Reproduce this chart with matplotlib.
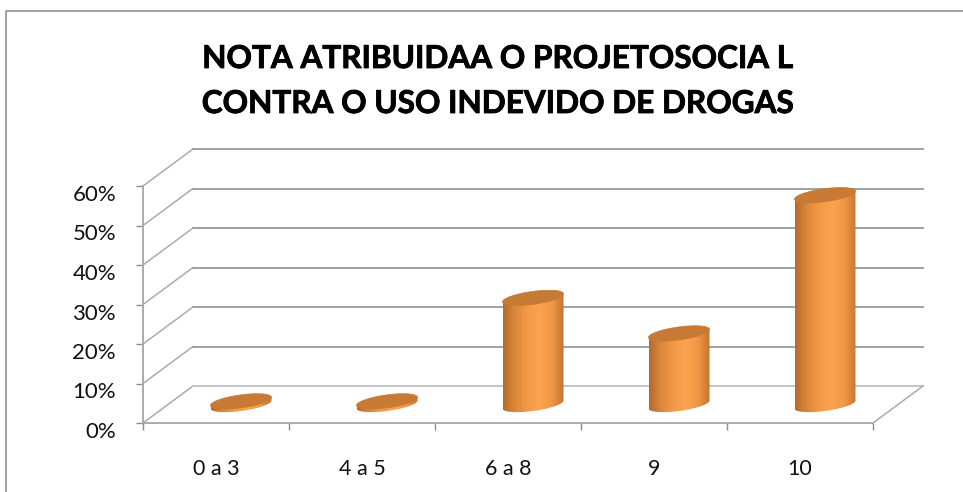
import numpy as np
import matplotlib
matplotlib.use("Agg")
import matplotlib.pyplot as plt
import matplotlib.patheffects as pe
from matplotlib.patches import Polygon
from matplotlib.lines import Line2D
from matplotlib.transforms import ScaledTranslation
from matplotlib.colors import LinearSegmentedColormap
from matplotlib.ticker import FuncFormatter

categories = ["0 a 3", "4 a 5", "6 a 8", "9", "10"]
values = [0.8, 0.8, 27, 18, 53]
y_ticks = [0, 10, 20, 30, 40, 50, 60]
title_lines = ["NOTA ATRIBUIDAA O PROJETOSOCIA L", "CONTRA O USO INDEVIDO DE DROGAS"]

W, H = 963, 492
plt.rcParams["font.family"] = ["Lato", "DejaVu Sans"]
fig = plt.figure(figsize=(W / 100, H / 100), dpi=100, facecolor="white")

L, R, B, T = 143, 873, 423, 186
ax = fig.add_axes([L / W, 1 - B / H, (R - L) / W, (B - T) / H])
ax.set_facecolor("none")

px_x = (R - L) / len(categories)
px_y = (B - T) / y_ticks[-1]
depth_x = 50 / px_x
depth_y = 37 / px_y
GRID = "#a0a0a0"

for v in y_ticks:
    ax.plot([0, depth_x], [v, v + depth_y], color="#ababab", lw=1.1, clip_on=False, zorder=1)
    ax.plot([depth_x, len(categories) + depth_x], [v + depth_y] * 2,
            color="#c4c4c4" if v == 0 else GRID, lw=1.4, clip_on=False, zorder=1)
ax.plot([len(categories), len(categories) + depth_x], [0, depth_y], color="#ababab", lw=1.1,
        clip_on=False, zorder=1)

cmap = LinearSegmentedColormap.from_list(
    "cyl", ["#b56b2c", "#dc8838", "#f39a48", "#fba34f", "#f09846", "#c27530"])
grad = np.linspace(0, 1, 200).reshape(1, -1)
half_w = 30.5 / px_x
semi_b = 6.5 / px_y
shear = 4.0 / px_y
t_down = np.linspace(np.pi, 2 * np.pi, 60)
t_all = np.linspace(0, 2 * np.pi, 120)

for i, v in enumerate(values):
    cx = i + 0.5 + depth_x / 2
    base = depth_y / 2
    top = base + v
    xs = cx + half_w * np.cos(t_down)
    body_y = base + semi_b * np.sin(t_down) + shear * np.cos(t_down)
    upper_y = top + shear * np.array([1, -1])
    verts = np.vstack([
        np.column_stack([xs, body_y]),
        [[cx + half_w, upper_y[0]], [cx - half_w, upper_y[1]]],
    ])
    body = Polygon(verts, closed=True, transform=ax.transData, facecolor="none", edgecolor="none")
    ax.add_patch(body)
    im = ax.imshow(grad, cmap=cmap, extent=[cx - half_w, cx + half_w, base - 4, top + 4],
                   aspect="auto", zorder=3, clip_on=True)
    im.set_clip_path(body)
    cap = Polygon(np.column_stack([
        cx + half_w * np.cos(t_all),
        top + semi_b * np.sin(t_all) + shear * np.cos(t_all)]),
        closed=True, facecolor="#c67a33", edgecolor="#c67a33", lw=0.5, zorder=4, clip_on=False)
    ax.add_patch(cap)

ax.set_xlim(0, len(categories))
ax.set_ylim(0, y_ticks[-1])

for s in ("top", "right"):
    ax.spines[s].set_visible(False)
for s in ("left", "bottom"):
    ax.spines[s].set_color("#ababab")
    ax.spines[s].set_linewidth(1.4)
    ax.spines[s].set_zorder(2)

ax.set_xticks(np.arange(len(categories) + 1))
ax.set_xticklabels([])
ax.set_xticks(np.arange(len(categories)) + 0.5, minor=True)
ax.set_xticklabels(categories, minor=True, fontsize=15.5, color="#111111")
ax.tick_params(axis="x", which="major", length=7 * 0.72, color="#8c8c8c", width=1)
ax.tick_params(axis="x", which="minor", length=0, pad=36 * 0.72)
ax.set_yticks(y_ticks)
ax.yaxis.set_major_formatter(FuncFormatter(lambda v, _: f"{int(v)}%"))
ax.tick_params(axis="y", length=7 * 0.72, color="#8c8c8c", width=1, labelsize=16,
               labelcolor="#111111", pad=20 * 0.72)
shift = ScaledTranslation(0, -7 / 100, fig.dpi_scale_trans)
for lab in ax.get_yticklabels():
    lab.set_transform(lab.get_transform() + shift)

for text, base_y in zip(title_lines, (68, 113)):
    fig.text(497.5 / W, 1 - base_y / H, text, ha="center", va="baseline",
             fontsize=22.7, fontweight="bold", color="black",
             path_effects=[pe.withStroke(linewidth=0.6, foreground="black")])

fig.add_artist(Line2D([6 / W, 6 / W, 1], [0, 1 - 11 / H, 1 - 11 / H], color="#9a9a9a", lw=1.3,
                      transform=fig.transFigure))

fig.savefig("out.png", dpi=100, facecolor="white")
